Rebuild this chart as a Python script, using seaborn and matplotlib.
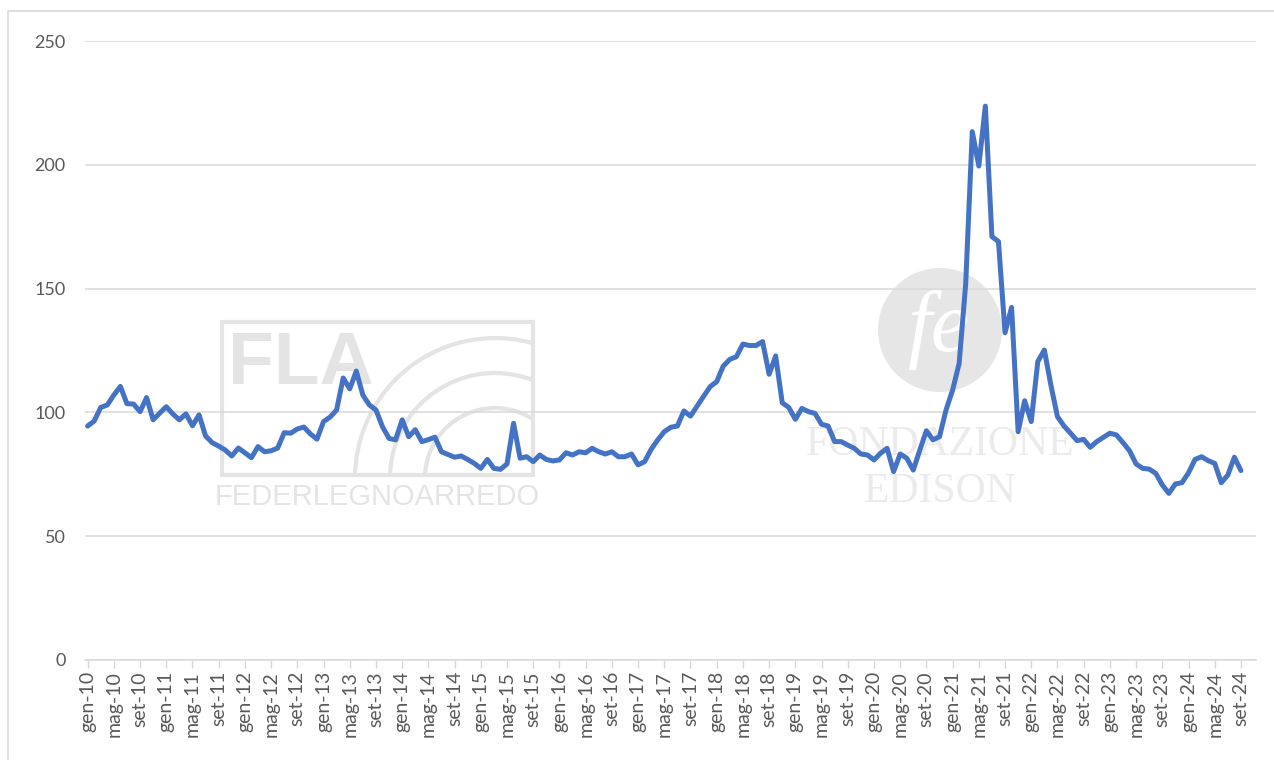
import numpy as np
import pandas as pd
import matplotlib
matplotlib.use("Agg")
import matplotlib.pyplot as plt
from matplotlib.patches import Rectangle, Ellipse, Arc
import seaborn as sns

# mesi e anni della serie (gen-10 .. set-24)
mesi = ['gen', 'feb', 'mar', 'apr', 'mag', 'giu', 'lug', 'ago', 'set', 'ott', 'nov', 'dic']
anni = list(range(2010, 2025))

# valori, un anno per riga
v2010 = [94.5, 96.5, 102, 103, 107, 110.5, 103.5, 103.4, 100.3, 106, 97, 99.7]
v2011 = [102.3, 99.4, 97, 99.4, 94.6, 99, 90.5, 87.8, 86.4, 84.8, 82.4, 85.6]
v2012 = [83.7, 81.7, 86.2, 84.1, 84.5, 85.6, 91.8, 91.6, 93.3, 94.1, 91.3, 89.2]
v2013 = [96.3, 98.1, 101, 113.9, 109.5, 116.7, 107, 103, 101, 94.2, 89.5, 88.9]
v2014 = [97, 90.2, 93, 88.2, 89, 90, 84.1, 83, 81.9, 82.4, 81, 79.4]
v2015 = [77.4, 81, 77.4, 77, 79.2, 95.6, 81.5, 82.1, 80.1, 82.8, 81, 80.4]
v2016 = [80.8, 83.7, 82.8, 84.1, 83.7, 85.5, 84.1, 83.2, 84.1, 82.1, 82.1, 83.2]
v2017 = [78.8, 80.1, 85.1, 88.9, 92.2, 94, 94.5, 100.6, 98.5, 102.5, 106.5, 110.4]
v2018 = [112.4, 118.7, 121.4, 122.5, 127.6, 127, 127, 128.6, 115.4, 122.8, 103.9, 102]
v2019 = [97.2, 101.6, 100.3, 99.6, 95.2, 94.5, 88.2, 88.2, 86.8, 85.5, 83.2, 82.8]
v2020 = [80.8, 83.5, 85.5, 76.1, 83.2, 81.5, 76.7, 84.8, 92.6, 88.9, 90.2, 101]
v2021 = [109, 119.8, 152, 213.4, 199.5, 223.7, 171, 169, 132.2, 142.4, 92.2, 104.7]
v2022 = [96.3, 120.5, 125.2, 111, 98.3, 94.5, 91.6, 88.6, 89.1, 85.9, 88.2, 89.9]
v2023 = [91.6, 90.9, 87.8, 84.5, 79.2, 77.4, 77.1, 75.4, 70.7, 67.3, 71.1, 71.6]
v2024 = [75.6, 81, 82.1, 80.5, 79.4, 71.6, 74.7, 81.9, 76.5]

valori = (v2010 + v2011 + v2012 + v2013 + v2014 + v2015 + v2016 + v2017
          + v2018 + v2019 + v2020 + v2021 + v2022 + v2023 + v2024)
periodi = [f"{m}-{str(a)[2:]}" for a in anni for m in mesi][:len(valori)]

df = pd.DataFrame({'periodo': periodi, 'indice': valori})
df['pos'] = np.arange(len(df))

sns.set_theme(style='white')
plt.rcParams['font.family'] = ['Lato', 'DejaVu Sans']

W, H = 1274, 760
fig = plt.figure(figsize=(W / 100, H / 100), dpi=100)
ax = fig.add_axes([85 / W, 100 / H, 1171 / W, 619 / H])
ax.set_zorder(5)
ax.patch.set_alpha(0)


def fx(px):
    return px / W


def fy(py):
    return 1 - py / H


# bordo dell'area grafico
fig.patches.append(Rectangle((fx(8), -0.1), 1.2, 0.1 + fy(11), transform=fig.transFigure,
                             fill=False, edgecolor='#D9D9D9', lw=1.2, zorder=0))

# filigrane (loghi)
grigio = '#E4E4E4'
box = Rectangle((fx(222), fy(475)), fx(533) - fx(222), fy(322) - fy(475),
                transform=fig.transFigure, fill=False, edgecolor=grigio, lw=3, zorder=0)
fig.patches.append(box)
for r in [70, 105, 140]:
    arco = Arc((fx(495), fy(478)), 2 * r / W, 2 * r / H, theta1=0, theta2=180,
               transform=fig.transFigure, edgecolor=grigio, lw=3, zorder=0)
    arco.set_clip_path(box)
    fig.patches.append(arco)
fig.text(fx(228), fy(365), 'FLA', fontsize=54, fontweight='bold', color=grigio,
         va='center', ha='left', family='Liberation Sans', zorder=0)
fig.text(fx(377), fy(497), 'FEDERLEGNOARREDO', fontsize=21, color=grigio,
         va='center', ha='center', family='Liberation Sans', zorder=0)
fig.patches.append(Ellipse((fx(940), fy(330)), 124 / W, 124 / H, transform=fig.transFigure,
                           facecolor='#E6E6E6', edgecolor='none', zorder=0))
fig.text(fx(938), fy(330), 'fe', fontsize=62, color='white', style='italic',
         va='center', ha='center', family='Liberation Serif', zorder=0.5)
fig.text(fx(940), fy(445), 'FONDAZIONE', fontsize=30, color='#EBEBEB',
         va='center', ha='center', family='Liberation Serif', zorder=0)
fig.text(fx(940), fy(492), 'EDISON', fontsize=30, color='#EBEBEB',
         va='center', ha='center', family='Liberation Serif', zorder=0)

sns.lineplot(data=df, x='pos', y='indice', color='#4472C4', linewidth=3.6, ax=ax,
             solid_joinstyle='round', solid_capstyle='round', zorder=3)

ax.set_xlim(-0.4, 178.3)
ax.set_ylim(0, 250)
ax.set_yticks([0, 50, 100, 150, 200, 250])
ax.yaxis.grid(True, color='#D9D9D9', lw=1.1)
ax.set_axisbelow(True)

ax.set_xticks(df['pos'][::4])
ax.set_xticklabels(df['periodo'][::4], rotation=90)
ax.tick_params(axis='x', which='major', bottom=True, length=6, width=1, color='#D9D9D9',
               labelsize=14, labelcolor='#595959', pad=2)
ax.tick_params(axis='y', left=False, labelsize=13, labelcolor='#595959', pad=8)

for s in ['top', 'right', 'left']:
    ax.spines[s].set_visible(False)
ax.spines['bottom'].set_color('#D9D9D9')
ax.spines['bottom'].set_linewidth(1.1)

ax.set_xlabel('')
ax.set_ylabel('')

fig.savefig('out.png', dpi=100)
